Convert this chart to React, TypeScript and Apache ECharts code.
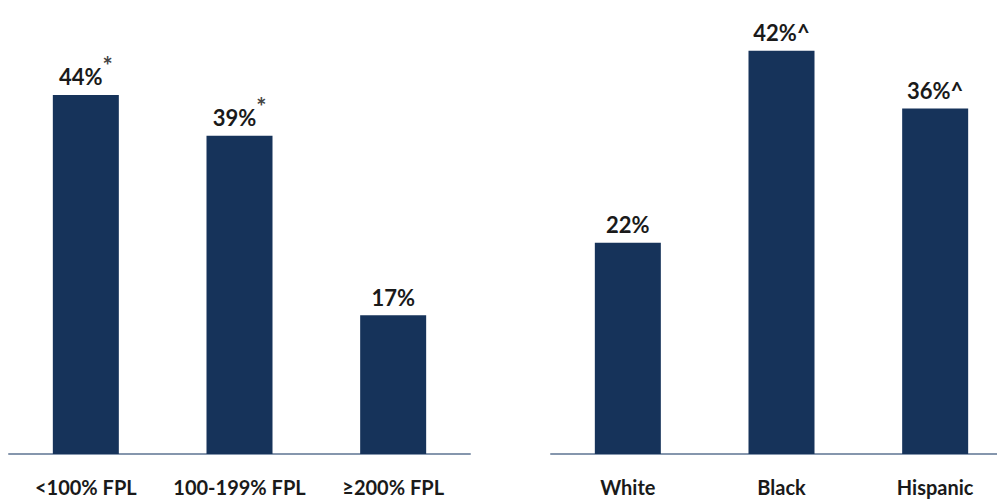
import React, { useEffect, useRef } from "react";
import * as echarts from "echarts";

const fplCategories = ["<100% FPL", "100-199% FPL", "≥200% FPL"];
const fplValues = [44, 39, 17];
const fplMarks = ["*", "*", ""];

const raceCategories = ["White", "Black", "Hispanic"];
const raceValues = [22, 42, 36];
const raceMarks = ["", "^", "^"];

const BAR = "#16335a";
const AXIS = "#8596ad";
const FONT = "Lato";

export default function App() {
  const ref = useRef<HTMLDivElement>(null);
  useEffect(() => {
    if (!ref.current) return;
    const chart = echarts.init(ref.current, null, { renderer: "svg" });
    const labelRich = {
      a: { fontSize: 22, fontWeight: "bold", fontFamily: FONT, color: "#1a1a1a", lineHeight: 34, verticalAlign: "bottom" },
      s: { fontSize: 24, fontWeight: "bold", fontFamily: FONT, color: "#444", verticalAlign: "top", lineHeight: 34 },
    };
    const xAxisCommon = {
      type: "category",
      axisTick: { show: false },
      axisLine: { lineStyle: { color: AXIS, width: 2 } },
      axisLabel: { interval: 0, fontSize: 20, lineHeight: 20, fontWeight: "bold", fontFamily: FONT, color: "#1a1a1a", margin: 23 },
    };
    chart.setOption({
      animation: false,
      grid: [
        { left: 9, width: 461, top: 46, bottom: 45, outerBoundsMode: "none", containLabel: false },
        { left: 551, width: 461, top: 22, bottom: 45, outerBoundsMode: "none", containLabel: false },
      ],
      xAxis: [
        { ...xAxisCommon, gridIndex: 0, data: fplCategories },
        { ...xAxisCommon, gridIndex: 1, data: raceCategories },
      ],
      yAxis: [
        { type: "value", gridIndex: 0, min: 0, max: 50, show: false, splitLine: { show: false } },
        { type: "value", gridIndex: 1, min: 0, max: 45, show: false, splitLine: { show: false } },
      ],
      series: [
        {
          type: "bar",
          xAxisIndex: 0,
          yAxisIndex: 0,
          data: fplValues,
          barWidth: 66,
          itemStyle: { color: BAR },
          label: {
            show: true,
            position: "top",
            distance: 7,
            formatter: (p: any) => `{a|${p.value}%}` + (fplMarks[p.dataIndex] ? `{s|${fplMarks[p.dataIndex]}}` : ""),
            rich: labelRich,
          },
        },
        {
          type: "bar",
          xAxisIndex: 1,
          yAxisIndex: 1,
          data: raceValues,
          barWidth: 66,
          itemStyle: { color: BAR },
          label: {
            show: true,
            position: "top",
            distance: 7,
            formatter: (p: any) => `{a|${p.value}%${raceMarks[p.dataIndex]}}`,
            rich: labelRich,
          },
        },
      ],
    });
    return () => chart.dispose();
  }, []);
  return (
    <div
      ref={ref}
      style={{ position: "absolute", left: 0, top: 0, width: 997, height: 499, background: "#fff" }}
    />
  );
}
